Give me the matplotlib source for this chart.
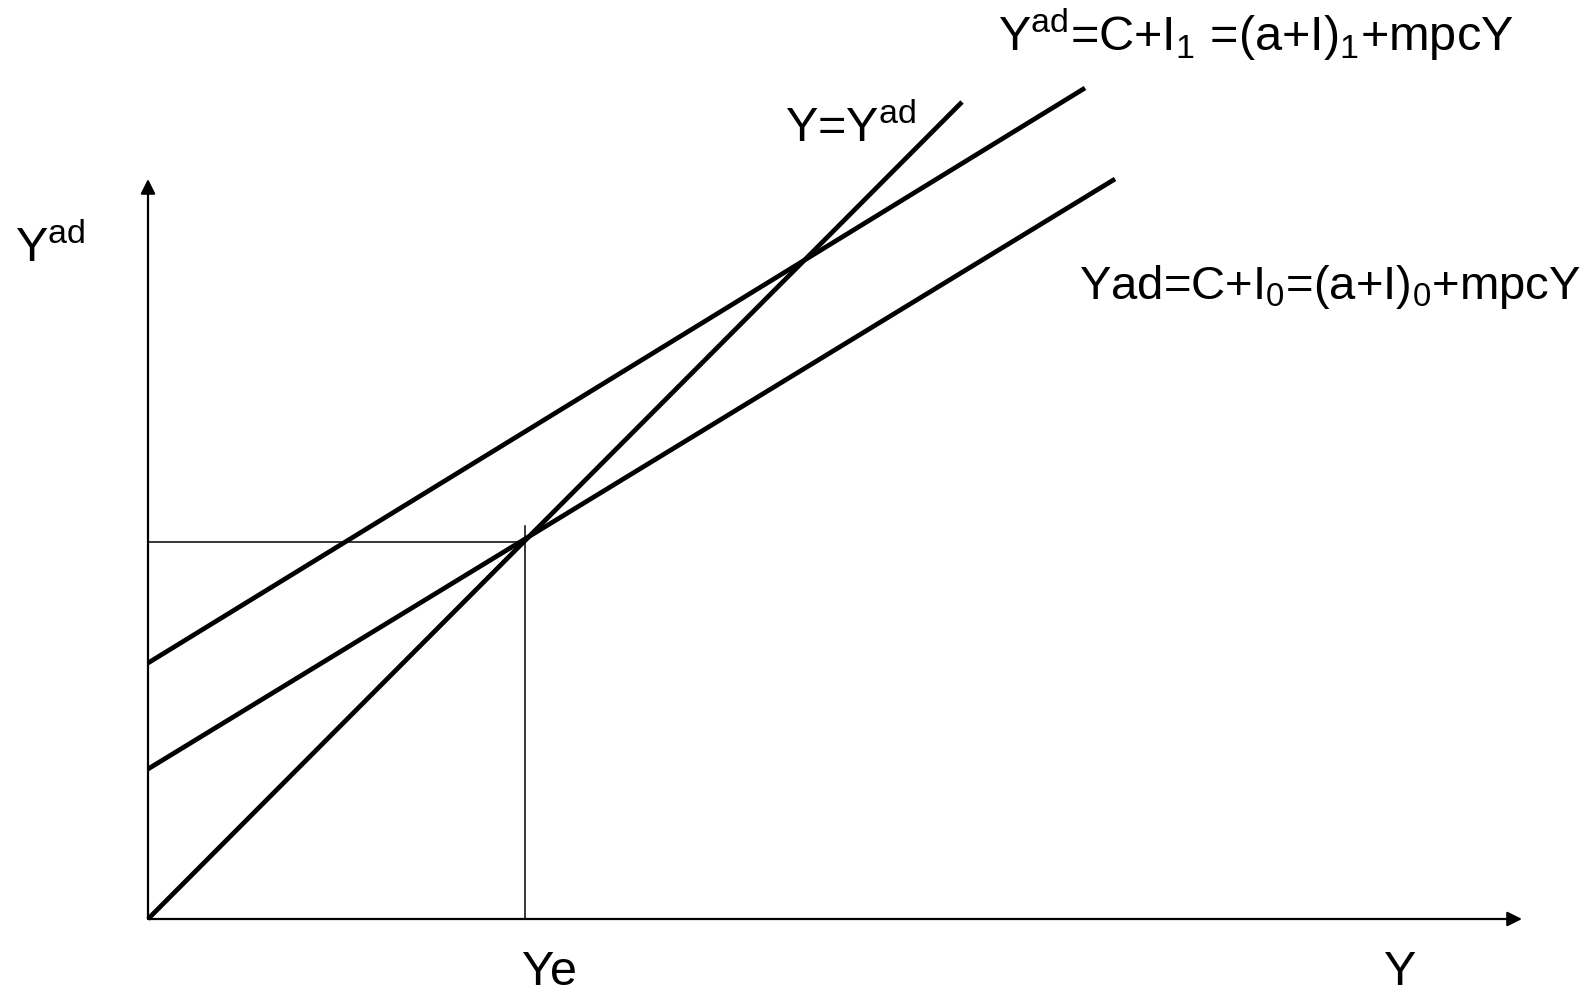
import matplotlib
matplotlib.use("Agg")
import matplotlib.pyplot as plt

plt.rcParams['font.family'] = ['Liberation Sans', 'DejaVu Sans']
plt.rcParams['mathtext.fontset'] = 'custom'
plt.rcParams['mathtext.rm'] = 'Liberation Sans'
plt.rcParams['mathtext.it'] = 'Liberation Sans:italic'

# data in plot units (origin = where the axes meet)
line45_x = [0, 814]
line45_y = [0, 817]
ad0_x = [0, 967]
ad0_y = [150, 740]
ad1_x = [0, 937]
ad1_y = [256, 831]
ye = 377
x_axis_end = 1374
y_axis_end = 740

label_ad1 = r'Y$^{\mathrm{ad}}$=C+I$_{1}$ =(a+I)$_{1}$+mpcY'
label_ad0 = r'Yad=C+I$_{0}$=(a+I)$_{0}$+mpcY'
label_45 = r'Y=Y$^{\mathrm{ad}}$'
label_yaxis = r'Y$^{\mathrm{ad}}$'
label_ye = 'Ye'
label_xaxis = 'Y'

fig = plt.figure(figsize=(15.87, 9.97), dpi=100)
ax = fig.add_axes([0, 0, 1, 1])
ax.set_xlim(-148, 1587 - 148)
ax.set_ylim(-78, 919)
ax.axis('off')

# axes with arrows
ax.annotate('', xy=(x_axis_end, 0), xytext=(0, 0),
            arrowprops=dict(arrowstyle='-|>', color='black', lw=1.6,
                            mutation_scale=22, shrinkA=0, shrinkB=0))
ax.annotate('', xy=(0, y_axis_end), xytext=(0, 0),
            arrowprops=dict(arrowstyle='-|>', color='black', lw=1.6,
                            mutation_scale=22, shrinkA=0, shrinkB=0))

# equilibrium guides
ax.plot([ye, ye], [0, ye + 16], color='black', lw=1.1)
ax.plot([0, ye], [ye, ye], color='black', lw=1.1)

# the three lines
ax.plot(line45_x, line45_y, color='black', lw=3.4, solid_capstyle='butt')
ax.plot(ad0_x, ad0_y, color='black', lw=3.4, solid_capstyle='butt')
ax.plot(ad1_x, ad1_y, color='black', lw=3.4, solid_capstyle='butt')

fs = 35
ax.text(998 - 148, 919 - 51, label_ad1, fontsize=fs, va='baseline', ha='left')
ax.text(785 - 148, 919 - 142, label_45, fontsize=fs, va='baseline', ha='left')
ax.text(1581 - 148, 919 - 299, label_ad0, fontsize=34, va='baseline', ha='right')
ax.text(15 - 148, 919 - 262, label_yaxis, fontsize=fs, va='baseline', ha='left')
ax.text(522 - 148, 919 - 985, label_ye, fontsize=fs, va='baseline', ha='left')
ax.text(1384 - 148, 919 - 985, label_xaxis, fontsize=fs, va='baseline', ha='left')

fig.savefig('out.png', dpi=100)
